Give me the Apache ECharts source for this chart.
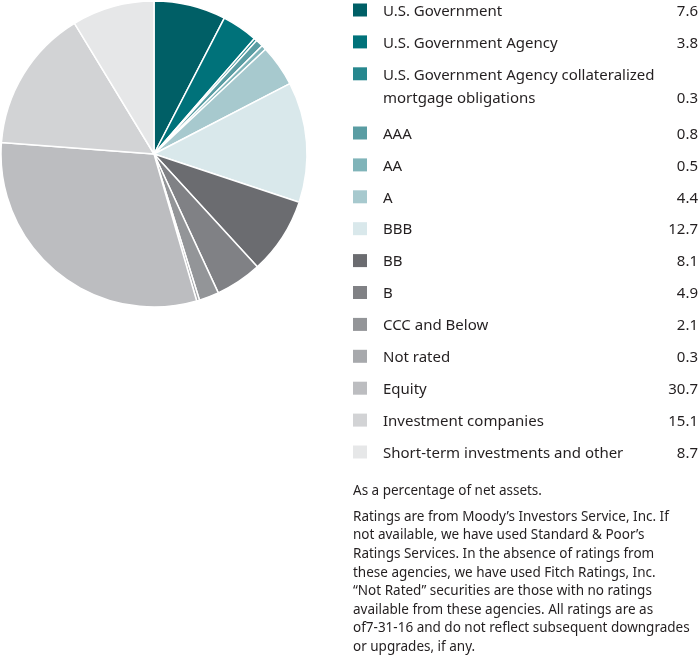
<!DOCTYPE html>
<html>
<head>
<meta charset="utf-8">
<script src="https://cdn.jsdelivr.net/npm/echarts@6/dist/echarts.min.js"></script>
<style>
html,body{margin:0;padding:0;background:#fff;}
#chart{width:700px;height:663px;}
</style>
</head>
<body>
<div id="chart"></div>
<script>
// ---- data ----
const categories = [
  "U.S. Government",
  "U.S. Government Agency",
  "U.S. Government Agency collateralized\nmortgage obligations",
  "AAA",
  "AA",
  "A",
  "BBB",
  "BB",
  "B",
  "CCC and Below",
  "Not rated",
  "Equity",
  "Investment companies",
  "Short-term investments and other"
];
const values = [7.6, 3.8, 0.3, 0.8, 0.5, 4.4, 12.7, 8.1, 4.9, 2.1, 0.3, 30.7, 15.1, 8.7];
const valueLabels = ["7.6", "3.8", "0.3", "0.8", "0.5", "4.4", "12.7", "8.1", "4.9", "2.1", "0.3", "30.7", "15.1", "8.7"];
const colors = ["#005f66", "#00727a", "#27878e", "#5a9da3", "#80b4b9", "#a7c9ce", "#d9e8eb",
                "#6b6c70", "#808185", "#939598", "#a7a9ac", "#bcbdc0", "#d2d3d5", "#e6e7e8"];
const footnoteLines = [
  "Ratings are from Moody\u2019s Investors Service, Inc. If",
  "not available, we have used Standard & Poor\u2019s",
  "Ratings Services. In the absence of ratings from",
  "these agencies, we have used Fitch Ratings, Inc.",
  "\u201cNot Rated\u201d securities are those with no ratings",
  "available from these agencies. All ratings are as",
  "of7-31-16 and do not reflect subsequent downgrades",
  "or upgrades, if any."
];
const footnoteTitle = "As a percentage of net assets.";

// ---- layout ----
const FONT = "'Noto Sans', 'Open Sans', sans-serif";
const TEXT_COLOR = "#231f20";
const legendGraphics = [];
let y = 10;
categories.forEach((name, i) => {
  const lines = name.split("\n");
  legendGraphics.push({
    type: 'rect', shape: { x: 353, y: y - 6.5, width: 14, height: 13 },
    style: { fill: colors[i] }, silent: true
  });
  lines.forEach((ln, k) => {
    legendGraphics.push({
      type: 'text', x: 383, y: y + 1.5 + k * 23,
      style: { text: ln, font: "15px " + FONT, fill: TEXT_COLOR, textVerticalAlign: 'middle', textAlign: 'left' },
      silent: true
    });
  });
  legendGraphics.push({
    type: 'text', x: 698, y: y + 1.5 + (lines.length - 1) * 23,
    style: { text: valueLabels[i], font: "15px " + FONT, fill: TEXT_COLOR, textVerticalAlign: 'middle', textAlign: 'right' },
    silent: true
  });
  y += 31.9 + (lines.length - 1) * 27.3;
});

const footGraphics = [];
footGraphics.push({
  type: 'text', x: 353, y: 491,
  style: { text: footnoteTitle, font: "13.5px " + FONT, fill: TEXT_COLOR, textVerticalAlign: 'middle' },
  silent: true
});
footnoteLines.forEach((ln, i) => {
  footGraphics.push({
    type: 'text', x: 353, y: 517 + i * 18.6,
    style: { text: ln, font: "13.5px " + FONT, fill: TEXT_COLOR, textVerticalAlign: 'middle' },
    silent: true
  });
});

const chart = echarts.init(document.getElementById('chart'), null, { renderer: 'canvas' });
chart.setOption({
  animation: false,
  backgroundColor: '#ffffff',
  color: colors,
  series: [{
    type: 'pie',
    center: [154, 154],
    radius: [0, 153],
    startAngle: 90,
    clockwise: true,
    avoidLabelOverlap: false,
    label: { show: false },
    labelLine: { show: false },
    emphasis: { disabled: true },
    itemStyle: { borderColor: '#ffffff', borderWidth: 1.5 },
    data: categories.map((c, i) => ({ name: c.replace("\n", " "), value: values[i] }))
  }],
  graphic: legendGraphics.concat(footGraphics)
});
</script>
</body>
</html>
